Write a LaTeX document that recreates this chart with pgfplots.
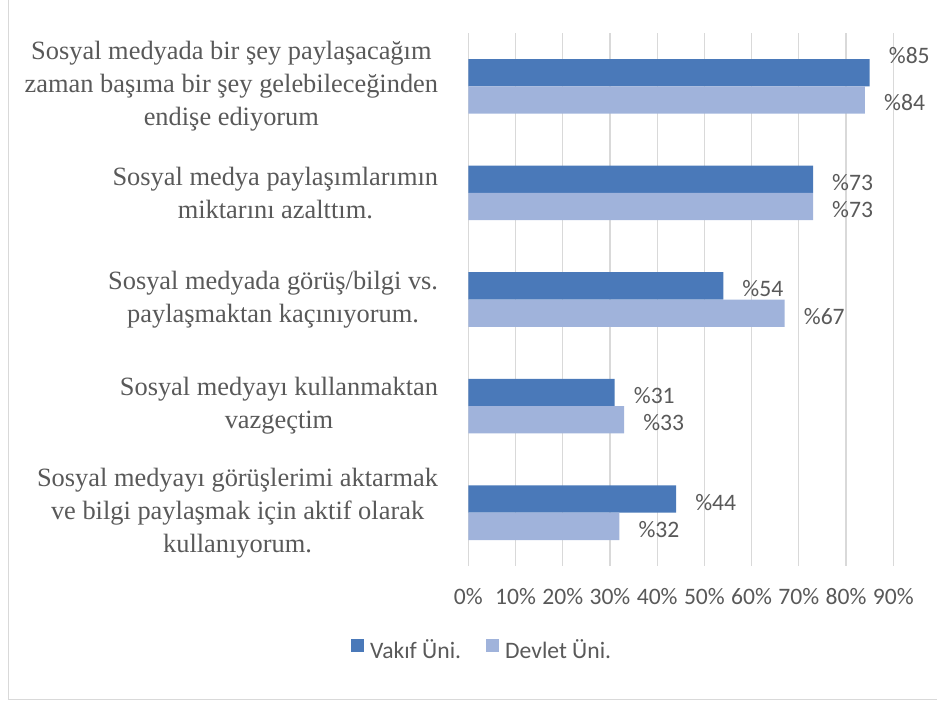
\documentclass[border=0pt]{standalone}
\usepackage{fontspec}
\setmainfont{Liberation Serif}
\newfontfamily\calibri{Carlito}
\usepackage{pgfplots}
\pgfplotsset{compat=1.18}
\usepackage{pgfplotstable}
\definecolor{dark}{HTML}{4A79B9}
\definecolor{light}{HTML}{A0B3DB}
\definecolor{txt}{HTML}{595959}
\definecolor{grd}{HTML}{D9D9D9}

\pgfplotstableread{
y x dy
0 85 17
1 73 -3
2 54 -3
3 31 -3
4 44 -3
}\vakif
\pgfplotstableread{
y x dy
0 84 -3
1 73 -3
2 67 -3
3 33 -3
4 32 -3
}\devlet

\begin{document}
\begin{tikzpicture}
\useasboundingbox (0pt,0pt) rectangle (937pt,701pt);
\draw[grd, line width=1.5pt] (8.5pt,701pt) -- (8.5pt,1.5pt) -- (937pt,1.5pt);
\begin{axis}[
  at={(468.3pt,135pt)}, anchor=south west,
  scale only axis, width=425pt, height=533pt,
  xmin=0, xmax=90, ymin=-0.5, ymax=4.5, y dir=reverse,
  xbar, bar width=27.3pt,
  axis line style={draw=none},
  major tick length=0pt,
  xmajorgrids, grid style={grd, line width=1.2pt},
  xtick={0,10,...,90},
  xticklabels={0\%,10\%,20\%,30\%,40\%,50\%,60\%,70\%,80\%,90\%},
  xticklabel style={font=\calibri\fontsize{23.6}{28}\selectfont, text=txt, inner sep=0pt, anchor=north, yshift=-22pt},
  ytick={0,1,2,3,4},
  yticklabels={
    {Sosyal medyada bir şey paylaşacağım\\zaman başıma bir şey gelebileceğinden\\endişe ediyorum},
    {Sosyal medya paylaşımlarımın\\miktarını azalttım.},
    {Sosyal medyada görüş/bilgi vs.\\paylaşmaktan kaçınıyorum.},
    {Sosyal medyayı kullanmaktan\\vazgeçtim},
    {Sosyal medyayı görüşlerimi aktarmak\\ve bilgi paylaşmak için aktif olarak\\kullanıyorum.}},
  yticklabel style={font=\fontsize{26.4}{33}\selectfont, text=txt, align=center, inner sep=0pt, anchor=east, xshift=-30pt},
  point meta=x,
  nodes near coords={\%\pgfmathprintnumber[assume math mode=true]{\pgfplotspointmeta}},
  visualization depends on={\thisrow{dy}\as\dy},
  every node near coord/.append style={font=\calibri\fontsize{23.6}{28}\selectfont, text=txt, anchor=west, inner sep=0pt, xshift=19pt, yshift=\dy pt},
  legend columns=2,
  legend image code/.code={\fill[#1,draw=none] (0pt,-2pt) rectangle (13pt,11pt);},
  legend style={at={(-0.276,-0.156)}, anchor=west, draw=none, fill=none, inner sep=0pt,
    font=\calibri\fontsize{23.6}{28}\selectfont, text=txt,
    nodes={inner sep=0pt},
    /tikz/every odd column/.append style={column sep=6pt},
    /tikz/every even column/.append style={column sep=25pt}},
]
\addplot[fill=dark, draw=none, bar shift=13.65pt] table[x=x,y=y] {\vakif};
\addplot[fill=light, draw=none, bar shift=-13.65pt] table[x=x,y=y] {\devlet};
\legend{Vakıf Üni., Devlet Üni.}
\end{axis}
\end{tikzpicture}
\end{document}
